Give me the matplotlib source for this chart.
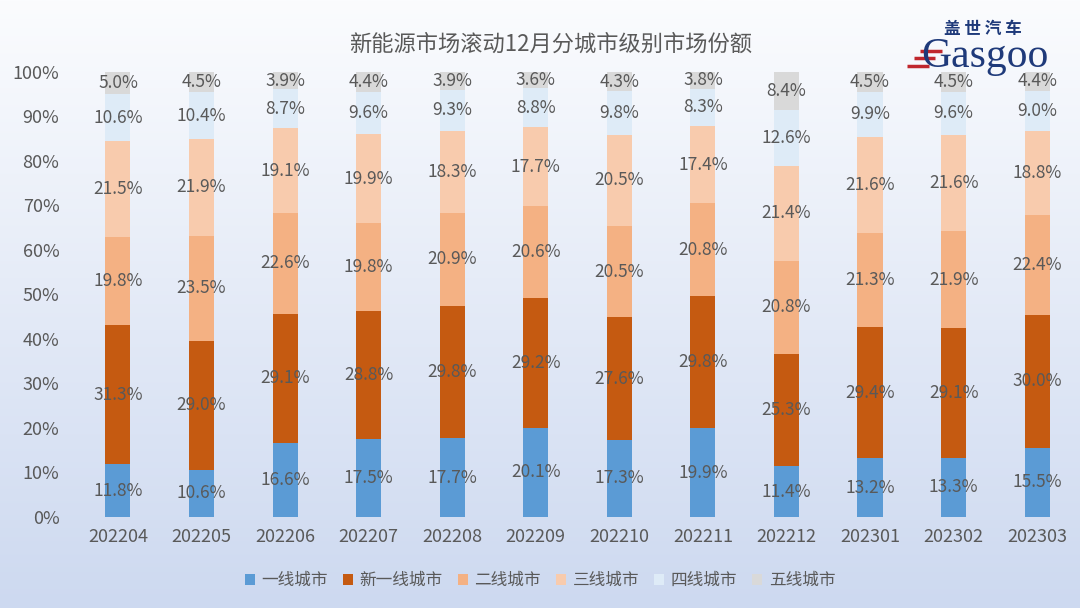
import matplotlib
matplotlib.use("Agg")
import matplotlib.pyplot as plt
import numpy as np
from matplotlib.colors import LinearSegmentedColormap

plt.rcParams['font.family'] = ['Noto Sans CJK SC', 'DejaVu Sans']

months = ["202204", "202205", "202206", "202207", "202208", "202209",
          "202210", "202211", "202212", "202301", "202302", "202303"]
tier1 = [11.8, 10.6, 16.6, 17.5, 17.7, 20.1, 17.3, 19.9, 11.4, 13.2, 13.3, 15.5]
new_tier1 = [31.3, 29.0, 29.1, 28.8, 29.8, 29.2, 27.6, 29.8, 25.3, 29.4, 29.1, 30.0]
tier2 = [19.8, 23.5, 22.6, 19.8, 20.9, 20.6, 20.5, 20.8, 20.8, 21.3, 21.9, 22.4]
tier3 = [21.5, 21.9, 19.1, 19.9, 18.3, 17.7, 20.5, 17.4, 21.4, 21.6, 21.6, 18.8]
tier4 = [10.6, 10.4, 8.7, 9.6, 9.3, 8.8, 9.8, 8.3, 12.6, 9.9, 9.6, 9.0]
tier5 = [5.0, 4.5, 3.9, 4.4, 3.9, 3.6, 4.3, 3.8, 8.4, 4.5, 4.5, 4.4]

series = [tier1, new_tier1, tier2, tier3, tier4, tier5]
names = ["一线城市", "新一线城市", "二线城市", "三线城市", "四线城市", "五线城市"]
colors = ["#5b9bd5", "#c55a11", "#f4b183", "#f8cbad", "#deebf7", "#d9d9d9"]

fig = plt.figure(figsize=(10.8, 6.08), dpi=100)

# background gradient
bg = fig.add_axes([0, 0, 1, 1], zorder=-10)
grad = np.linspace(0, 1, 256).reshape(-1, 1)
cmap = LinearSegmentedColormap.from_list("bg", ["#fbfcfe", "#cdd9f0"])
bg.imshow(grad, aspect="auto", cmap=cmap, extent=[0, 1, 0, 1], origin="upper")
bg.set_xlim(0, 1)
bg.set_ylim(0, 1)
bg.set_axis_off()

ax = fig.add_axes([0.0705, 0.1497, 0.9285, 0.7319])
ax.patch.set_alpha(0)
x = np.arange(len(months))
bottom = np.zeros(len(months))
for vals, name, col in zip(series, names, colors):
    vals = np.array(vals)
    ax.bar(x, vals, 0.3, bottom=bottom, color=col, label=name)
    for xi, b, v in zip(x, bottom, vals):
        ax.text(xi, b + v / 2, f"{v:.1f}%", ha="center", va="center",
                fontsize=12.5, color="#595959")
    bottom += vals

ax.set_xlim(-0.5, len(months) - 0.5)
ax.set_ylim(0, 100)
ax.set_yticks(range(0, 101, 10))
ax.set_yticklabels([f"{v}%" for v in range(0, 101, 10)])
ax.set_xticks(x)
ax.set_xticklabels(months)
ax.tick_params(length=0, labelsize=13, colors="#595959")
ax.tick_params(axis="x", pad=8)
ax.tick_params(axis="y", pad=12)
for s in ax.spines.values():
    s.set_visible(False)

fig.text(0.51, 0.928, "新能源市场滚动12月分城市级别市场份额", ha="center", va="center",
         fontsize=16, color="#595959")

# logo
bg.text(0.91, 0.952, "盖 世 汽 车", ha="center", va="center", fontsize=12,
        color="#1f3a7a", fontweight="bold")
bg.text(0.912, 0.907, "Gasgoo", ha="center", va="center", fontsize=30,
        color="#1f3a7a", family=["Liberation Serif", "DejaVu Serif"])
for dy in [0.0, 0.012, 0.024]:
    bg.plot([0.84 + dy * 0.5, 0.86 + dy * 0.5], [0.892 + dy, 0.892 + dy],
            color="#c0272d", lw=2.5, solid_capstyle="butt")

leg = fig.legend(loc="center", bbox_to_anchor=(0.5, 0.045), ncol=6, frameon=False,
                 fontsize=12, handlelength=0.6, handleheight=0.6,
                 columnspacing=0.9, handletextpad=0.4)
for t in leg.get_texts():
    t.set_color("#595959")

fig.savefig("out.png", dpi=100)
